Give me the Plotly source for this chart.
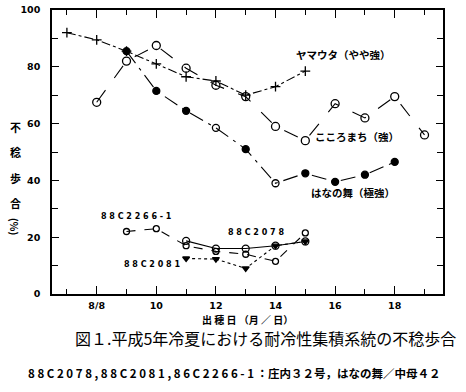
import plotly.graph_objects as go

# ---- data ----
yamauta_x = [7, 8, 9, 10, 11, 12, 13, 14, 15]
yamauta_y = [92, 89.5, 85.5, 81, 76.5, 75, 70, 73, 78.5]

kokoro_x = [8, 9, 10, 11, 12, 13, 14, 15, 16, 17, 18, 19]
kokoro_y = [67.5, 82, 87.5, 79.5, 73.5, 69.5, 59, 54, 67, 62, 69.5, 56]

hana_x = [9, 10, 11, 12, 13, 14, 15, 16, 17, 18]
hana_y = [85.5, 71.5, 64.5, 58.5, 51, 39, 42.5, 39.5, 42, 46.5]
hana_open = [False, False, False, True, False, True, False, False, False, False]

c2266_x = [9, 10, 11, 12, 13, 14, 15]
c2266_y = [22, 23, 17, 15, 14, 11.5, 21.5]

c2078_x = [11, 12, 13, 14, 15]
c2078_y = [18.7, 16, 16, 17, 18.5]

c2081_x = [11, 12, 13, 14, 15]
c2081_y = [12.5, 12.3, 9, 17, 18.5]

x_tickvals = [8, 10, 12, 14, 16, 18]
x_ticktext = ["8/8", "10", "12", "14", "16", "18"]
y_tickvals = [0, 20, 40, 60, 80, 100]

FONT = "Noto Sans CJK JP"
NUMFONT = "DejaVu Sans"
K = "black"

fig = go.Figure()

def add(x, y, dash, symbol, size, width=1.1):
    fig.add_trace(go.Scatter(
        x=x, y=y, mode="lines+markers",
        line=dict(color=K, width=width, dash=dash),
        marker=dict(symbol=symbol, size=size, color=K,
                    line=dict(color=K, width=1.3)),
        showlegend=False, hoverinfo="skip"))

add(yamauta_x, yamauta_y, "dashdot", "cross-thin", 7)
add(kokoro_x, kokoro_y, "longdash", "circle-open", 8)
add(hana_x, hana_y, "longdashdot",
    ["circle-open" if o else "circle" for o in hana_open], 7)
add(c2266_x, c2266_y, "dash", "circle-open", 6)
add(c2078_x, c2078_y, "solid", "circle-open", 7)
add(c2081_x, c2081_y, "dot", "triangle-down", 6)

# plot area (screen px): left 52, top 10, right 443, bottom 294
PL, PT, PR, PB = 52, 10, 443, 294
def px(x):
    return (x - PL) / (PR - PL)
def py(y):
    return (PB - y) / (PB - PT)

ann = []
def text(x, y, t, size=10, xref="x", yref="y", angle=0, weight="bold", fam=FONT):
    ann.append(dict(x=x, y=y, xref=xref, yref=yref, text=t, showarrow=False,
                    textangle=angle, xanchor="center", yanchor="middle",
                    font=dict(family=fam, size=size, color=K, weight=weight)))

text(16.27, 84.2, "ヤマウタ（やや強）", 10.5)
text(16.75, 55.3, "こころまち（強）", 10.5)
text(16.6, 35.6, "はなの舞（極強）", 10.5)
text(9.35, 27.2, "8 8 C 2 2 6 6 - 1", 8, fam=NUMFONT)
text(13.35, 21.6, "8 8 C 2 0 7 8", 8, fam=NUMFONT)
text(9.85, 10.3, "8 8 C 2 0 8 1", 8, fam=NUMFONT)

# y-axis label, stacked characters
for ch, yy in [("不", 127), ("稔", 152), ("歩", 178), ("合", 203)]:
    text(px(15), py(yy), ch, 11, "paper", "paper")
text(px(15), py(226), "(%)", 10, "paper", "paper", angle=90)

# x-axis title and captions
text(px(247), py(319), "出 穂 日 （月 ／ 日）", 10, "paper", "paper")
text(px(265), py(338),
     "図１.平成5年冷夏における耐冷性集積系統の不稔歩合", 16, "paper", "paper",
     weight="normal")
text(px(234), py(373),
     "8 8 C 2 0 7 8 , 8 8 C 2 0 8 1 , 8 6 C 2 2 6 6 - 1 ：庄内３２号，はなの舞／中母４２",
     11.5, "paper", "paper")

fig.update_layout(
    width=466, height=392,
    margin=dict(l=PL, r=466 - PR, t=PT, b=392 - PB),
    paper_bgcolor="white", plot_bgcolor="white",
    annotations=ann,
    xaxis=dict(range=[6.5, 19.62], showgrid=False, zeroline=False,
               automargin=False,
               showline=True, linecolor=K, linewidth=1.5, mirror="allticks",
               ticks="inside", ticklen=8, tickwidth=1.3, tickcolor=K,
               tickmode="array", tickvals=x_tickvals, ticktext=x_ticktext,
               ticklabelstandoff=2,
               tickfont=dict(family=NUMFONT, size=9.5, color=K, weight="bold"),
               minor=dict(ticks="inside", ticklen=5, tickwidth=1.2,
                          tickcolor=K, dtick=1, tick0=7, showgrid=False)),
    yaxis=dict(range=[0, 100], showgrid=False, zeroline=False,
               automargin=False,
               showline=True, linecolor=K, linewidth=1.5, mirror="allticks",
               ticks="inside", ticklen=7, tickwidth=1.3, tickcolor=K,
               tickmode="array", tickvals=y_tickvals,
               ticklabelstandoff=8,
               tickfont=dict(family=NUMFONT, size=9.5, color=K, weight="bold"),
               minor=dict(ticks="inside", ticklen=6, tickwidth=1.2,
                          tickcolor=K, dtick=10, tick0=0, showgrid=False)),
)

# remove the browser's default 8px body margin so the figure sits at (0, 0)
fig.write_html("out.html", config={"displayModeBar": False},
               post_script="document.body.style.margin='0';")
